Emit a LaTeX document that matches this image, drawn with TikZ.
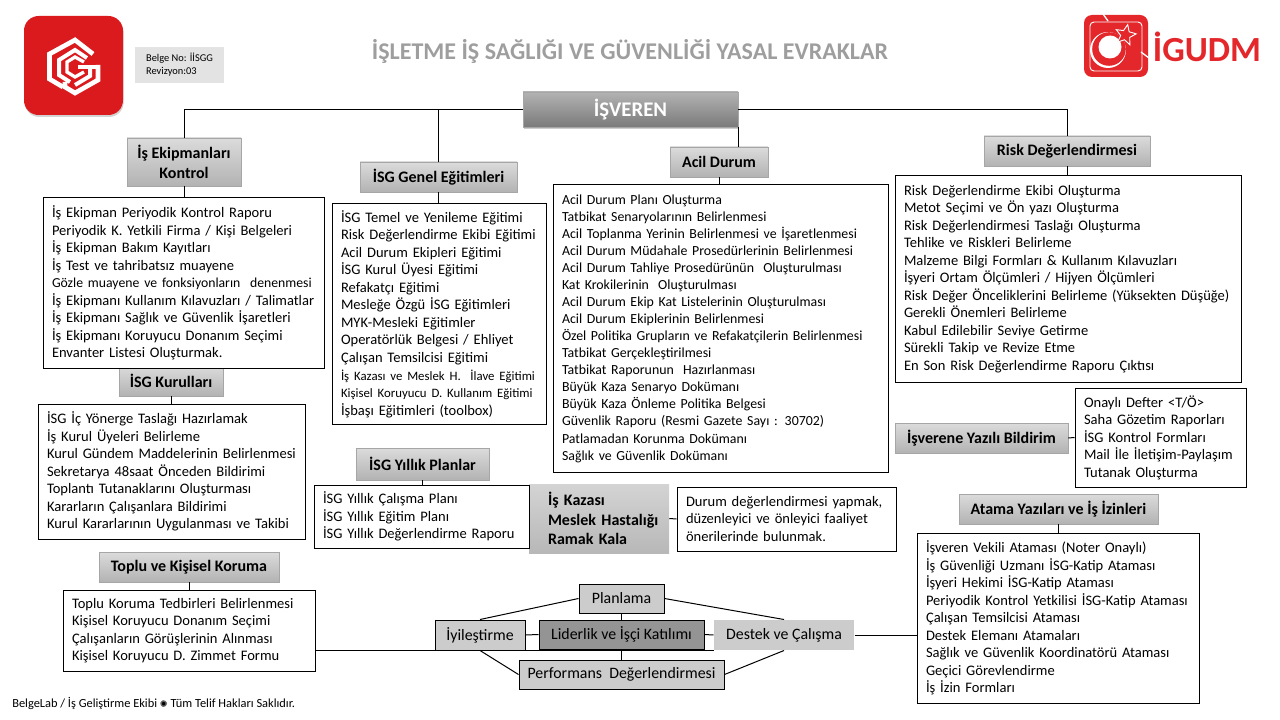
\documentclass[tikz,border=0pt]{standalone}
\usepackage{xcolor}
\usepackage{fontspec}
\setmainfont{Carlito}
\newfontfamily\symfont{DejaVu Sans}
\usetikzlibrary{positioning, shadows, calc, shapes.geometric}
\definecolor{logored}{HTML}{DB1A1E}
\definecolor{igured}{HTML}{E3272B}

\begin{document}
\begin{tikzpicture}[
    x=0.75pt, y=-0.75pt,
    hdr/.style 2 args={rectangle, draw=black!35, top color=black!14, bottom color=black!30, align=center, inner sep=0pt, font=\fontsize{12}{14.5pt}\selectfont\bfseries, minimum width=#1*0.75pt, minimum height=#2*0.75pt},
    listbox/.style 2 args={rectangle, draw=black, line width=0.75pt, fill=white, align=left, inner xsep=6.75pt, inner ysep=0pt, font=\fontsize{10.9}{13.15pt}\selectfont, text width=#1*0.75pt-13.5pt, minimum height=#2*0.75pt},
    stepbox/.style 2 args={rectangle, draw=black, line width=0.75pt, fill=black!20, inner sep=0pt, font=\fontsize{11.9}{13pt}\selectfont, minimum width=#1*0.75pt, minimum height=#2*0.75pt},
    link/.style={draw=black, line width=0.75pt}
]
\useasboundingbox (0,0) rectangle (1280,720);

% Title and document info
\node[font=\fontsize{18}{20pt}\selectfont\bfseries, text=black!38] (title) at (630,51) {İŞLETME İŞ SAĞLIĞI VE GÜVENLİĞİ YASAL EVRAKLAR};
\node[fill=black!11, minimum width=66.75pt, minimum height=27pt, inner xsep=0pt, inner ysep=0pt, align=left, font=\fontsize{7.8}{9.8pt}\selectfont] (belge) at (179.5,65) {Belge No: İİSGG\\Revizyon:03};

% Left logo
\node[rectangle, rounded corners=11pt, fill=logored, minimum width=74.25pt, minimum height=74.25pt, inner sep=0pt, drop shadow={shadow xshift=0.5pt, shadow yshift=-1.5pt, opacity=0.35}] (logoleft) at (73.5,65.5) {};
\draw[white, line width=3.5pt] (93,54) -- (75,40) -- (49.5,54) -- (49.5,79) -- (63,87);
\draw[white, line width=3pt] (87,58) -- (75,50) -- (59,60) -- (59,75) -- (70,82);
\draw[white, line width=3.5pt] (98,65) -- (98,80) -- (75,93) -- (65,87) -- (65,82);
\draw[white, line width=2.5pt] (84,62) -- (75,57) -- (67,62) -- (67,72) -- (75,77) -- (84,72);
\draw[white, line width=3pt] (78,67) -- (100,67);
\draw[white, line width=3pt] (90,67) -- (90,76) -- (75,85);

% Right logo
\node[rectangle, rounded corners=6pt, fill=igured, minimum width=48pt, minimum height=46.5pt, inner sep=0pt] (logoright) at (1116,46) {};
\draw[white, line width=0.7pt, rounded corners=3pt] (1090,22) rectangle (1142,71);
\draw[white, line width=1pt] (1103,14) -- (1108,21);
\draw[white, line width=1pt] (1141,52) -- (1149,58);
\fill[white] (1108,50) circle (18);
\fill[igured] (1109,49) circle (16.8);
\fill[white] (1110,47) circle (11.5);
\node[star, star points=5, star point ratio=2.2, draw=white, fill=igured, line width=0.7pt, minimum size=16pt, inner sep=0pt, rotate=-12] (logostar) at (1125.5,35) {};
\node[font=\fontsize{26.5}{30pt}\selectfont\bfseries, text=igured, inner sep=0pt] (igudm) at (1207,47) {İGUDM};

% Top node
\node[rectangle, top color=black!30, bottom color=black!52, draw=black!35, minimum width=161.25pt, minimum height=26.25pt, inner sep=0pt, text=white, font=\fontsize{15.6}{18pt}\selectfont\bfseries, drop shadow={shadow xshift=0.4pt, shadow yshift=-1.2pt, opacity=0.4}] (isveren) at (630.5,109.5) {İŞVEREN};

% Group headers
\node[hdr={114}{48}] (ekipman) at (184,162) {İş Ekipmanları\\Kontrol};
\node[hdr={104}{30}] (kurullar) at (171,381) {İSG Kurulları};
\node[hdr={180}{30}] (toplu) at (189,567) {Toplu ve Kişisel Koruma};
\node[hdr={157}{30}] (genel) at (438.5,177) {İSG Genel Eğitimleri};
\node[hdr={133}{32}] (yillik) at (422.5,464) {İSG Yıllık Planlar};
\node[hdr={98}{30}] (acil) at (719,162) {Acil Durum};
\node[hdr={166}{30}] (risk) at (1067,151) {Risk Değerlendirmesi};
\node[hdr={173}{30}] (bildirim) at (981.5,438) {İşverene Yazılı Bildirim};
\node[hdr={199}{30}] (atama) at (1058.5,509) {Atama Yazıları ve İş İzinleri};
\node[rectangle, top color=black!17, bottom color=black!28, inner sep=0pt, text width=105pt, minimum height=51.75pt, align=left, font=\fontsize{12}{14.5pt}\selectfont\bfseries] (kaza) at (599,518.5) {\hspace*{14.25pt}İş Kazası\\\hspace*{14.25pt}Meslek Hastalığı\\\hspace*{14.25pt}Ramak Kala};

% Lists
\node[listbox={281}{170}] (ekipmanlist) at (183.5,283) {İş Ekipman Periyodik Kontrol Raporu\\Periyodik K. Yetkili Firma / Kişi Belgeleri\\İş Ekipman Bakım Kayıtları\\İş Test ve tahribatsız muayene\\{\fontsize{10.3}{13pt}\selectfont Gözle muayene ve fonksiyonların\ \ denenmesi}\\İş Ekipmanı Kullanım Kılavuzları / Talimatlar\\İş Ekipmanı Sağlık ve Güvenlik İşaretleri\\İş Ekipmanı Koruyucu Donanım Seçimi\\Envanter Listesi Oluşturmak.};
\node[listbox={267}{135}] (kurullarlist) at (171.5,471.5) {İSG İç Yönerge Taslağı Hazırlamak\\İş Kurul Üyeleri Belirleme\\Kurul Gündem Maddelerinin Belirlenmesi\\Sekretarya 48saat Önceden Bildirimi\\Toplantı Tutanaklarını Oluşturması\\Kararların Çalışanlara Bildirimi\\Kurul Kararlarının Uygulanması ve Takibi};
\node[listbox={252}{81}] (toplulist) at (189,630.5) {Toplu Koruma Tedbirleri Belirlenmesi\\Kişisel Koruyucu Donanım Seçimi\\Çalışanların Görüşlerinin Alınması\\Kişisel Koruyucu D. Zimmet Formu};
\node[listbox={214}{220}] (genellist) at (439,314) {İSG Temel ve Yenileme Eğitimi\\Risk Değerlendirme Ekibi Eğitimi\\Acil Durum Ekipleri Eğitimi\\İSG Kurul Üyesi Eğitimi\\Refakatçı Eğitimi\\Mesleğe Özgü İSG Eğitimleri\\MYK-Mesleki Eğitimler\\Operatörlük Belgesi / Ehliyet\\Çalışan Temsilcisi Eğitimi\\{\fontsize{9.6}{12pt}\selectfont İş Kazası ve Meslek H.\ \ İlave Eğitimi}\\{\fontsize{9.6}{12pt}\selectfont Kişisel Koruyucu D. Kullanım Eğitimi}\\İşbaşı Eğitimleri (toolbox)};
\node[listbox={215}{63}] (yilliklist) at (421.5,516.5) {İSG Yıllık Çalışma Planı\\İSG Yıllık Eğitim Planı\\İSG Yıllık Değerlendirme Raporu};
\node[listbox={335}{287}, font=\fontsize{10.4}{12.8pt}\selectfont] (acillist) at (720.5,328.5) {Acil Durum Planı Oluşturma\\Tatbikat Senaryolarının Belirlenmesi\\Acil Toplanma Yerinin Belirlenmesi ve İşaretlenmesi\\Acil Durum Müdahale Prosedürlerinin Belirlenmesi\\Acil Durum Tahliye Prosedürünün\ \ Oluşturulması\\Kat Krokilerinin\ \ Oluşturulması\\Acil Durum Ekip Kat Listelerinin Oluşturulması\\Acil Durum Ekiplerinin Belirlenmesi\\Özel Politika Grupların ve Refakatçilerin Belirlenmesi\\Tatbikat Gerçekleştirilmesi\\Tatbikat Raporunun\ \ Hazırlanması\\Büyük Kaza Senaryo Dokümanı\\Büyük Kaza Önleme Politika Belgesi\\Güvenlik Raporu (Resmi Gazete Sayı : 30702)\\Patlamadan Korunma Dokümanı\\Sağlık ve Güvenlik Dokümanı};
\node[listbox={346}{206}] (risklist) at (1068,279) {Risk Değerlendirme Ekibi Oluşturma\\Metot Seçimi ve Ön yazı Oluşturma\\Risk Değerlendirmesi Taslağı Oluşturma\\Tehlike ve Riskleri Belirleme\\Malzeme Bilgi Formları \& Kullanım Kılavuzları\\İşyeri Ortam Ölçümleri / Hijyen Ölçümleri\\Risk Değer Önceliklerini Belirleme (Yüksekten Düşüğe)\\Gerekli Önemleri Belirleme\\Kabul Edilebilir Seviye Getirme\\Sürekli Takip ve Revize Etme\\En Son Risk Değerlendirme Raporu Çıktısı};
\node[listbox={171}{99}] (bildirimlist) at (1160.5,437.5) {Onaylı Defter <T/Ö>\\Saha Gözetim Raporları\\İSG Kontrol Formları\\Mail İle İletişim-Paylaşım\\Tutanak Oluşturma};
\node[listbox={219}{64}] (kazalist) at (786.5,519) {Durum değerlendirmesi yapmak,\\düzenleyici ve önleyici faaliyet\\önerilerinde bulunmak.};
\node[listbox={282}{170}] (atamalist) at (1058,618) {İşveren Vekili Ataması (Noter Onaylı)\\İş Güvenliği Uzmanı İSG-Katip Ataması\\İşyeri Hekimi İSG-Katip Ataması\\Periyodik Kontrol Yetkilisi İSG-Katip Ataması\\Çalışan Temsilcisi Ataması\\Destek Elemanı Atamaları\\Sağlık ve Güvenlik Koordinatörü Ataması\\Geçici Görevlendirme\\İş İzin Formları};

% Cycle in the middle
\node[stepbox={85}{29}] (planlama) at (621.5,598.5) {Planlama};
\node[stepbox={90}{30}] (iyilestirme) at (480,635) {İyileştirme};
\node[stepbox={165}{29}, fill=black!42] (liderlik) at (621.5,634.5) {Liderlik ve İşçi Katılımı};
\node[stepbox={140}{30}, draw=none, fill=black!20] (destek) at (784,635) {Destek ve Çalışma};
\node[stepbox={205}{29}] (performans) at (621.5,674.5) {Performans\ \ Değerlendirmesi};

% Footer
\node[anchor=west, inner sep=0pt, font=\fontsize{9.3}{11pt}\selectfont] (footer) at (12,703) {BelgeLab / İş Geliştirme Ekibi {\symfont\fontsize{7}{8pt}\selectfont ✺} Tüm Telif Hakları Saklıdır.};

% Arrows from the top node
\draw[link] (isveren.west) -| (ekipman.north);
\draw[link] (isveren.west) -| (genel.north);
\draw[link] (isveren.east) -| (risk.north);
\draw[link] (isveren.south east) -- (isveren.south east |- acil.north);

% Headers to lists
\draw[link] (ekipman.south) -- (ekipman.south |- ekipmanlist.north);
\draw[link] (kurullar.south) -- (kurullar.south |- kurullarlist.north);
\draw[link] (toplu.south) -- (toplu.south |- toplulist.north);
\draw[link] (genel.south) -- (genel.south |- genellist.north);
\draw[link] (yillik.south) -- (yillik.south |- yilliklist.north);
\draw[link] (acil.south) -- (acil.south |- acillist.north);
\draw[link] (risk.south) -- (risk.south |- risklist.north);
\draw[link] (atama.south) -- (atama.south |- atamalist.north);
\draw[link] (bildirim.east) -- (bildirimlist.west);
\draw[link] (kaza.east) -- (kazalist.west);

% Cycle links
\draw[link] (planlama.west) -- (iyilestirme.north);
\draw[link] (planlama.east) -- (destek.north);
\draw[link] (iyilestirme.south) -- (performans.west);
\draw[link] (destek.south) -- (performans.east);
\draw[link] (planlama.south) -- (liderlik.north);
\draw[link] (liderlik.south) -- (performans.north);
\draw[link] (iyilestirme.east) -- (liderlik.west);
\draw[link] (liderlik.east) -- (destek.west);
\draw[link] (toplulist.south east |- iyilestirme.south) -- (destek.south west);
\draw[link] (destek.east) -- (atamalist.west |- destek.east);

\end{tikzpicture}
\end{document}
